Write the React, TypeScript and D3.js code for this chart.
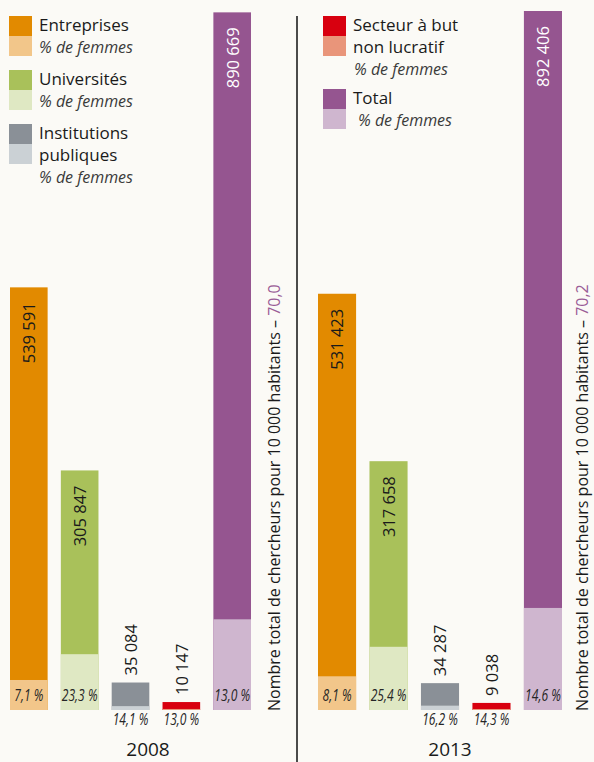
import React from "react";
import * as d3 from "d3";

const categories = ["Entreprises", "Universités", "Institutions publiques", "Secteur à but non lucratif", "Total"];
const years = ["2008", "2013"];
const values2008 = [539591, 305847, 35084, 10147, 890669];
const values2013 = [531423, 317658, 34287, 9038, 892406];
const women2008 = [7.1, 23.3, 14.1, 13.0, 13.0];
const women2013 = [8.1, 25.4, 16.2, 14.3, 14.6];
const density = [70.0, 70.2];
const legendLines = [["Entreprises"], ["Universités"], ["Institutions", "publiques"], ["Secteur à but", "non lucratif"], ["Total"]];
const womenLabel = "% de femmes";
const densityLabel = "Nombre total de chercheurs pour 10 000 habitants – ";

const darkColors = ["#E28A00", "#A9C15A", "#8A9097", "#D8000F", "#955590"];
const lightColors = ["#F2C68A", "#DFE8C3", "#CBD1D5", "#E9957A", "#CFB6CF"];
const BG = "#FBFAF6";
const FONT = "'Open Sans', 'Noto Sans', sans-serif";

const fr = d3.formatLocale({ decimal: ",", thousands: " ", grouping: [3], currency: ["", " €"] });
const fmtInt = fr.format(",d");
const fmtPct = (v: number) => fr.format(".1f")(v) + " %";

const BASE = 710;
const y = d3.scaleLinear().domain([0, d3.max([...values2008, ...values2013]) as number]).range([BASE, 11]);

const panels = [
  { year: years[0], values: values2008, women: women2008, density: density[0], range: [10, 251], labelX: 280, yearX: 148 },
  { year: years[1], values: values2013, women: women2013, density: density[1], range: [318, 562], labelX: 588, yearX: 450 },
];

function Panel({ p }: { p: any }) {
  const x = d3.scaleBand<string>().domain(categories).range(p.range as [number, number]).paddingInner(0.26).paddingOuter(0);
  const bw = x.bandwidth();
  return (
    <g>
      {categories.map((c, i) => {
        const v = p.values[i];
        const w = p.women[i];
        const x0 = x(c) as number;
        const cx = x0 + bw / 2;
        const top = y(v);
        const wTop = y((v * w) / 100);
        const inside = BASE - top > 100;
        const pctInside = BASE - wTop > 14;
        const pctY = pctInside ? BASE - 9 : BASE + 15;
        return (
          <g key={c}>
            <rect x={x0} y={top} width={bw} height={BASE - top} fill={darkColors[i]} />
            <rect x={x0} y={wTop} width={bw} height={BASE - wTop} fill={lightColors[i]} />
            <text
              transform={`translate(${cx + 0.5},${inside ? top + 15 : top - 7}) rotate(-90)`}
              textAnchor={inside ? "end" : "start"}
              dy="0.36em"
              fontSize={16.5}
              fill={i === 4 ? "#ffffff" : "#1a1a1a"}
            >
              {fmtInt(v)}
            </text>
            <text
              transform={`translate(${cx},${pctY}) scale(0.78,1)`}
              textAnchor="middle"
              fontSize={15.5}
              fontStyle="italic"
              fill="#262626"
            >
              {fmtPct(w)}
            </text>
          </g>
        );
      })}
      <text transform={`translate(${p.labelX},${BASE + 1}) rotate(-90)`} fontSize={16} fill="#1a1a1a">
        {densityLabel}
        <tspan fill="#9A5D97">{fr.format(".1f")(p.density)}</tspan>
      </text>
      <text x={p.yearX} y={756} textAnchor="middle" fontSize={19} fill="#1a1a1a">
        {p.year}
      </text>
    </g>
  );
}

function LegendItem({ i, x, top, pctIndent }: { i: number; x: number; top: number; pctIndent: number }) {
  const lines = legendLines[i];
  return (
    <g>
      <rect x={x} y={top} width={23} height={20} fill={darkColors[i]} />
      <rect x={x} y={top + 20} width={23} height={20} fill={lightColors[i]} />
      {lines.map((l, k) => (
        <text key={k} x={x + 30} y={top + 15 + 22 * k} fontSize={17} fill="#1a1a1a">
          {l}
        </text>
      ))}
      <text x={x + 30 + pctIndent} y={top + 15 + 22 * lines.length} fontSize={16} fontStyle="italic" fill="#3a3a3a">
        {womenLabel}
      </text>
    </g>
  );
}

export default function App() {
  return (
    <svg
      width={594}
      height={762}
      style={{ position: "absolute", left: 0, top: 0, fontFamily: FONT }}
    >
      <rect width={594} height={762} fill={BG} />
      {panels.map((p) => (
        <Panel key={p.year} p={p} />
      ))}
      <line x1={297} x2={297} y1={16} y2={762} stroke="#111" strokeWidth={1.5} />
      <LegendItem i={0} x={9} top={16} pctIndent={0} />
      <LegendItem i={1} x={9} top={70} pctIndent={0} />
      <LegendItem i={2} x={9} top={124} pctIndent={0} />
      <LegendItem i={3} x={323} top={16} pctIndent={1} />
      <LegendItem i={4} x={323} top={89} pctIndent={5} />
    </svg>
  );
}
